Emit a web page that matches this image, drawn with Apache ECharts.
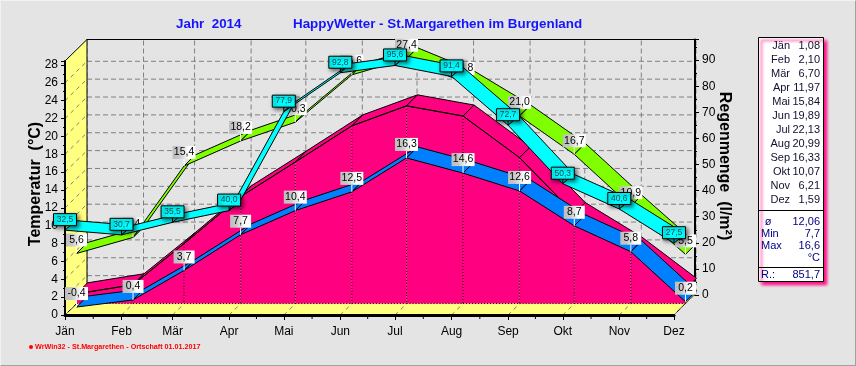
<!DOCTYPE html>
<html>
<head>
<meta charset="utf-8">
<title>HappyWetter</title>
<style>
    html, body { margin: 0; padding: 0; background: #e4e4e4; }
    #main { position: absolute; left: 0; top: 0; width: 856px; height: 366px; }
    #edge { position: absolute; left: 0; top: 0; width: 856px; height: 366px; box-sizing: border-box;
            border: 1px solid; border-color: #f2f2f2 #a0a0a0 #a0a0a0 #f2f2f2; pointer-events: none; }
</style>
<script src="https://cdn.jsdelivr.net/npm/echarts@6/dist/echarts.min.js"></script>
</head>
<body>
<div id="main"></div>
<div id="edge"></div>
<script>
// Monate und Tag im Jahr (Monatsbeginn), die x-Achse ist nach Tagen skaliert
var months = ['Jän', 'Feb', 'Mär', 'Apr', 'Mai', 'Jun', 'Jul', 'Aug', 'Sep', 'Okt', 'Nov', 'Dez'];
var monthDays = [0, 31, 59, 90, 120, 151, 181, 212, 243, 273, 304, 334];

// Monatswerte
var tempMean = [1.08, 2.10, 6.70, 11.97, 15.84, 19.89, 22.13, 20.99, 16.33, 10.07, 6.21, 1.59];
var tempLow = [-0.4, 0.4, 3.7, 7.7, 10.4, 12.5, 16.3, 14.6, 12.6, 8.7, 5.8, 0.2];
var tempHigh = [5.6, 7.4, 15.4, 18.2, 20.3, 25.6, 27.4, 24.8, 21.0, 16.7, 10.9, 5.5];
var rain = [32.5, 30.7, 35.5, 40.0, 77.9, 92.8, 95.6, 91.4, 72.7, 50.3, 40.6, 27.5];

// Statistik-Kasten
var statRows = [['Min', '7,7'], ['Max', '16,6']];
var statMean = '12,06';
var statSum = '851,7';

// Achsen
var tempTop = 28.44;
var rainTop = 97.3;
var rainAxisTop = 97.9;
var gridTemps = [0, 2, 4, 6, 8, 10, 12, 14, 16, 18, 20, 22, 24, 26];

var FONT = '"Liberation Sans", Arial, sans-serif';
var DEPTH_X = 22, DEPTH_Y = 21.5;   // Tiefe des Diagramms
var MID_X = 11.5, MID_Y = 11.5;     // mittlere Ebene
var BAND_X = 11;                    // Bandbreite

function comma(v, n) {
    return v.toFixed(n).replace('.', ',');
}

function line(a, b, stroke, dash, width) {
    return {
        type: 'line',
        shape: { x1: a[0], y1: a[1], x2: b[0], y2: b[1] },
        style: { stroke: stroke, lineWidth: width || 1, lineDash: dash || null }
    };
}

function poly(points, fill) {
    return {
        type: 'polygon',
        shape: { points: points },
        style: { fill: fill, stroke: '#000', lineWidth: 1 }
    };
}

function shift(p, dx, dy) {
    return [p[0] + dx, p[1] + dy];
}

// Wand, Boden und gestricheltes Gitter
function frameSeries(z) {
    return {
        type: 'custom',
        z: z,
        silent: true,
        coordinateSystem: 'cartesian2d',
        xAxisIndex: 0,
        yAxisIndex: 0,
        data: [[0, 0]],
        encode: { x: 0, y: 1 },
        renderItem: function (params, api) {
            var kids = [];
            var o = api.coord([0, 0]);
            var top = api.coord([0, tempTop]);
            var end = api.coord([monthDays[11], 0]);

            gridTemps.forEach(function (t) {
                var a = shift(api.coord([0, t]), DEPTH_X, -DEPTH_Y);
                var b = shift(api.coord([monthDays[11], t]), DEPTH_X - 1, -DEPTH_Y);
                kids.push(line(a, b, '#808080', [5, 3]));
            });
            monthDays.forEach(function (d) {
                var a = shift(api.coord([d, 0]), DEPTH_X, -DEPTH_Y);
                var b = shift(api.coord([d, tempTop]), DEPTH_X, -DEPTH_Y);
                kids.push(line(a, b, '#808080', [5, 3]));
            });

            kids.push(poly([o, shift(o, DEPTH_X, -DEPTH_Y), shift(top, DEPTH_X, -DEPTH_Y), top], '#ffff80'));
            kids.push(poly([o, end, shift(end, DEPTH_X - 1, -DEPTH_Y), shift(o, DEPTH_X, -DEPTH_Y)], '#ffff80'));

            gridTemps.forEach(function (t) {
                var a = api.coord([0, t]);
                kids.push(line(a, shift(a, DEPTH_X, -DEPTH_Y), '#808080', [4, 4]));
            });
            monthDays.forEach(function (d) {
                var a = api.coord([d, 0]);
                kids.push(line(a, shift(a, DEPTH_X, -DEPTH_Y), '#808080', [4, 4]));
            });
            monthDays.slice(0, 11).forEach(function (d, i) {
                var a = api.coord([(d + monthDays[i + 1]) / 2, 0]);
                kids.push(line(a, shift(a, 0, 4), '#000'));
            });
            return { type: 'group', children: kids };
        }
    };
}

// ein Band: Oberseite je Monat, wahlweise mit Vorderflaeche bis zum Boden
function ribbonSeries(values, yIndex, dx, dy, bandY, fill, withFace, z) {
    return {
        type: 'custom',
        z: z,
        silent: true,
        coordinateSystem: 'cartesian2d',
        xAxisIndex: 0,
        yAxisIndex: yIndex,
        data: monthDays.map(function (d, i) { return [d, values[i]]; }),
        encode: { x: 0, y: 1 },
        renderItem: function (params, api) {
            var i = params.dataIndex;
            if (i >= monthDays.length - 1) {
                return null;
            }
            var a = shift(api.coord([monthDays[i], values[i]]), dx, -dy);
            var b = shift(api.coord([monthDays[i + 1], values[i + 1]]), dx, -dy);
            var kids = [];
            if (withFace) {
                var a0 = shift(api.coord([monthDays[i], 0]), dx, -dy);
                var b0 = shift(api.coord([monthDays[i + 1], 0]), dx, -dy);
                kids.push({ type: 'polygon', shape: { points: [a, b, b0, a0] }, style: { fill: fill } });
                kids.push(line(a0, b0, '#000', [1, 2]));
            }
            kids.push(poly([a, b, shift(b, BAND_X, -bandY), shift(a, BAND_X, -bandY)], fill));
            if (withFace) {
                kids.push(line(a, b, '#000'));
                kids.push(line(a, a0, '#000', [1, 2]));
                if (i === monthDays.length - 2) {
                    kids.push(line(b, b0, '#000', [1, 2]));
                }
            }
            return { type: 'group', children: kids };
        }
    };
}

// Wertefaehnchen fuer die Temperaturen
var flagFill = new echarts.graphic.LinearGradient(0, 0, 1, 0, [
    { offset: 0, color: '#bebebe' }, { offset: 0.3, color: '#c8c8c8' }, { offset: 0.7, color: '#ffffff' }, { offset: 1, color: '#ffffff' }
]);

function flagSeries(values, z) {
    return {
        type: 'custom',
        z: z,
        silent: true,
        coordinateSystem: 'cartesian2d',
        xAxisIndex: 0,
        yAxisIndex: 0,
        data: monthDays.map(function (d, i) { return [d, values[i]]; }),
        encode: { x: 0, y: 1 },
        renderItem: function (params, api) {
            var i = params.dataIndex;
            var p = shift(api.coord([monthDays[i], values[i]]), MID_X, -MID_Y);
            var label = comma(values[i], 1);
            var w = label.length > 3 ? 23 : 21;
            return {
                type: 'group',
                children: [
                    { type: 'rect', shape: { x: p[0] - w / 2, y: p[1] - 20, width: w, height: 13 }, style: { fill: flagFill } },
                    line([p[0], p[1] - 7], p, '#fff'),
                    { type: 'text', style: { x: p[0], y: p[1] - 13.5, text: label, fill: '#000', font: '10.5px ' + FONT, align: 'center', verticalAlign: 'middle' } }
                ]
            };
        }
    };
}

// Kaestchen fuer den Niederschlag
function rainSeries(z) {
    return {
        type: 'custom',
        z: z,
        silent: true,
        coordinateSystem: 'cartesian2d',
        xAxisIndex: 0,
        yAxisIndex: 1,
        data: monthDays.map(function (d, i) { return [d, rain[i]]; }),
        encode: { x: 0, y: 1 },
        renderItem: function (params, api) {
            var i = params.dataIndex;
            var p = api.coord([monthDays[i], rain[i]]);
            return {
                type: 'group',
                children: [
                    line(shift(p, 0, -5), p, '#000'),
                    {
                        type: 'rect',
                        shape: { x: p[0] - 11.5, y: p[1] - 16.5, width: 23, height: 12 },
                        style: { fill: '#00ffff', stroke: '#000', lineWidth: 1, shadowBlur: 4, shadowOffsetX: 2, shadowOffsetY: 2, shadowColor: 'rgba(0,0,0,0.6)' }
                    },
                    { type: 'text', style: { x: p[0], y: p[1] - 10.5, text: comma(rain[i], 1), fill: '#104858', font: '8.5px ' + FONT, align: 'center', verticalAlign: 'middle' } }
                ]
            };
        }
    };
}

function text(x, y, str, color, font, align, rotation) {
    return {
        type: 'text',
        x: x,
        y: y,
        rotation: rotation || 0,
        z: 50,
        style: { x: 0, y: 0, text: str, fill: color, font: font, align: align || 'left', verticalAlign: 'middle' }
    };
}

function panelElements() {
    var els = [
        { type: 'rect', z: 49, shape: { x: 758.5, y: 37.5, width: 65, height: 244 },
          style: { fill: '#fff', stroke: '#000', lineWidth: 1, shadowBlur: 3, shadowOffsetX: 3, shadowOffsetY: 3, shadowColor: '#ff0080' } },
        { type: 'line', z: 50, shape: { x1: 758, y1: 210.5, x2: 824, y2: 210.5 }, style: { stroke: '#000' } },
        { type: 'line', z: 50, shape: { x1: 758, y1: 267.5, x2: 824, y2: 267.5 }, style: { stroke: '#000' } }
    ];
    months.forEach(function (m, i) {
        var y = 46 + i * 14;
        els.push(text(790, y, m, '#101030', '11px ' + FONT, 'right'));
        els.push(text(820, y, comma(tempMean[i], 2), '#101030', '11px ' + FONT, 'right'));
    });
    els.push(text(768, 222, 'ø', '#000080', '11px ' + FONT, 'center'));
    els.push(text(820, 222, statMean, '#000080', '11px ' + FONT, 'right'));
    statRows.forEach(function (r, i) {
        var y = 234 + i * 12;
        els.push(text(761, y, r[0], '#000080', '11px ' + FONT, 'left'));
        els.push(text(820, y, r[1], '#000080', '11px ' + FONT, 'right'));
    });
    els.push(text(820, 258, '°C', '#000080', '11px ' + FONT, 'right'));
    els.push(text(761, 275, 'R.:', '#000080', '11px ' + FONT, 'left'));
    els.push(text(820, 275, statSum, '#000080', '11px ' + FONT, 'right'));
    return els;
}

var graphicElements = [
    text(176, 24, 'Jahr  2014', '#1414ff', 'bold 13.4px ' + FONT),
    text(293, 24, 'HappyWetter - St.Margarethen im Burgenland', '#1414ff', 'bold 13.4px ' + FONT),
    text(36, 184, 'Temperatur  (°C)', '#000', 'bold 16px ' + FONT, 'center', Math.PI / 2),
    text(724, 166, 'Regenmenge  (l/m²)', '#000', 'bold 16px ' + FONT, 'center', -Math.PI / 2),
    { type: 'circle', z: 50, shape: { cx: 31, cy: 347, r: 2 }, style: { fill: '#ff0000' } },
    text(35, 347, 'WrWin32 - St.Margarethen - Ortschaft 01.01.2017', '#ff0000', 'bold 7.2px ' + FONT)
].concat(panelElements());

var chart = echarts.init(document.getElementById('main'), null, { renderer: 'canvas' });

chart.setOption({
    animation: false,
    backgroundColor: 'transparent',
    tooltip: { show: false },
    grid: [
        { left: 65, right: 182, top: 61, bottom: 51 },
        { left: 87, right: 161, top: 39.5, bottom: 71 }
    ],
    xAxis: [
        {
            type: 'value',
            gridIndex: 0,
            min: 0,
            max: monthDays[11],
            z: 3,
            splitLine: { show: false },
            axisLine: { onZero: false, lineStyle: { color: '#000', width: 3 } },
            axisTick: { customValues: monthDays, length: 5, lineStyle: { color: '#000' } },
            axisLabel: {
                customValues: monthDays,
                margin: 11,
                color: '#000',
                fontSize: 12,
                fontFamily: FONT,
                formatter: function (v) { return months[monthDays.indexOf(v)]; }
            }
        },
        {
            type: 'value',
            gridIndex: 1,
            position: 'top',
            min: 0,
            max: monthDays[11],
            z: 3,
            splitLine: { show: false },
            axisLine: { onZero: false, lineStyle: { color: '#000', width: 1 } },
            axisTick: { show: false },
            axisLabel: { show: false }
        }
    ],
    yAxis: [
        {
            type: 'value',
            gridIndex: 0,
            min: 0,
            max: tempTop,
            interval: 2,
            z: 3,
            splitLine: { show: false },
            axisLine: { show: true, onZero: false, lineStyle: { color: '#000', width: 2 } },
            axisTick: { show: true, length: 4, lineStyle: { color: '#000' } },
            minorTick: { show: true, splitNumber: 2, length: 2, lineStyle: { color: '#000' } },
            axisLabel: { margin: 7, color: '#000', fontSize: 12, fontFamily: FONT, showMaxLabel: false }
        },
        {
            type: 'value',
            gridIndex: 0,
            show: false,
            min: 0,
            max: rainTop
        },
        {
            type: 'value',
            gridIndex: 1,
            position: 'right',
            min: 0,
            max: rainAxisTop,
            interval: 10,
            z: 3,
            splitLine: { show: false },
            axisLine: { show: true, onZero: false, lineStyle: { color: '#000', width: 2 } },
            axisTick: { show: true, length: 4, lineStyle: { color: '#000' } },
            minorTick: { show: true, splitNumber: 2, length: 2, lineStyle: { color: '#000' } },
            axisLabel: { margin: 7, color: '#000', fontSize: 12, fontFamily: FONT, showMaxLabel: false }
        }
    ],
    series: [
        frameSeries(1),
        ribbonSeries(tempMean, 0, MID_X, MID_Y, 11, '#ff0080', true, 4),
        ribbonSeries(tempLow, 0, MID_X, MID_Y, 11, '#0080ff', false, 5),
        flagSeries(tempLow, 6),
        ribbonSeries(tempHigh, 0, MID_X, MID_Y, 11, '#80ff00', false, 7),
        flagSeries(tempHigh, 8),
        ribbonSeries(rain, 1, 0, 0, 9.5, '#00ffff', false, 9),
        rainSeries(10)
    ],
    graphic: { elements: graphicElements }
});
</script>
</body>
</html>
